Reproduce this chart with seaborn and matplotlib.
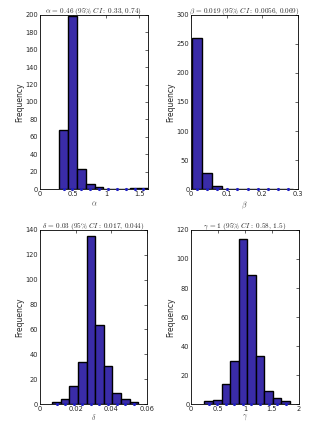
import numpy as np
import pandas as pd
import seaborn as sns
import matplotlib.pyplot as plt

# bin counts (300 bootstrap samples each)
alpha_counts = [68, 199, 23, 6, 2, 0, 0, 0, 1, 1]
beta_counts = [261, 27, 6, 1, 1, 0, 0, 1, 0, 1]
delta_counts = [2, 4, 15, 34, 135, 64, 31, 9, 4, 2]
gamma_counts = [2, 3, 14, 30, 114, 89, 33, 9, 4, 2]

# first bin edge and bin width for each parameter
alpha_bins = (0.29, 0.134)
beta_bins = (0.002, 0.0285)
delta_bins = (0.0069, 0.00482)
gamma_bins = (0.247, 0.1586)

titles = [
    r'$\alpha\,=\,\mathbf{0.46}\ \mathrm{(95\%}\ CI\mathrm{:\ 0.33,\,0.74)}$',
    r'$\beta\,=\,\mathbf{0.019}\ \mathrm{(95\%}\ CI\mathrm{:\ 0.0056,\,0.069)}$',
    r'$\delta\,=\,\mathbf{0.03}\ \mathrm{(95\%}\ CI\mathrm{:\ 0.017,\,0.044)}$',
    r'$\gamma\,=\,\mathbf{1}\ \mathrm{(95\%}\ CI\mathrm{:\ 0.58,\,1.5)}$',
]
xlabels = [r'$\alpha$', r'$\beta$', r'$\delta$', r'$\gamma$']

sns.set_style('white')
plt.rcParams['mathtext.fontset'] = 'cm'
plt.rcParams['font.family'] = ['DejaVu Sans']

bar_color = '#3a2ca8'

fig = plt.figure(figsize=(3.3, 4.25), dpi=100)
boxes = [
    [0.121, 0.555, 0.327, 0.41],
    [0.579, 0.555, 0.324, 0.41],
    [0.121, 0.049, 0.324, 0.41],
    [0.579, 0.049, 0.327, 0.41],
]
panels = [
    (alpha_counts, alpha_bins, (0, 1.63), [0, 0.5, 1, 1.5], (0, 200), 20),
    (beta_counts, beta_bins, (0, 0.3), [0, 0.1, 0.2, 0.3], (0, 300), 50),
    (delta_counts, delta_bins, (0, 0.06), [0, 0.02, 0.04, 0.06], (0, 140), 20),
    (gamma_counts, gamma_bins, (0, 2), [0, 0.5, 1, 1.5, 2], (0, 120), 20),
]

for i, (counts, (start, width), xlim, xticks, ylim, ystep) in enumerate(panels):
    ax = fig.add_axes(boxes[i])
    edges = [start + width * k for k in range(len(counts) + 1)]
    centers = [(a + b) / 2 for a, b in zip(edges[:-1], edges[1:])]
    df = pd.DataFrame({'x': centers, 'n': counts})
    sns.histplot(data=df, x='x', weights='n', bins=edges, ax=ax,
                 color=bar_color, alpha=1, edgecolor='black', linewidth=1.0)
    # MATLAB-style markers along the baseline at bin centres
    ax.plot(centers, [0] * len(centers), ls='none', marker='.',
            ms=2.5, color='#2020c0', clip_on=False, zorder=5)
    ax.set_xlim(*xlim)
    ax.set_ylim(*ylim)
    ax.set_xticks(xticks)
    ax.set_xticklabels([f'{t:g}' for t in xticks])
    ax.set_yticks(np.arange(ylim[0], ylim[1] + 1, ystep))
    ax.tick_params(direction='in', length=2, width=0.5, labelsize=4.8,
                   top=True, right=True, pad=1.2)
    for s in ax.spines.values():
        s.set_linewidth(0.6)
        s.set_color('black')
    ax.set_ylabel('Frequency', fontsize=5.5, labelpad=1)
    ax.set_xlabel(xlabels[i], fontsize=5.5, labelpad=2 if i < 2 else 0,
                  color='#555555')
    ax.set_title(titles[i], fontsize=5.2, pad=1.5)

fig.savefig('out.png', dpi=100)
